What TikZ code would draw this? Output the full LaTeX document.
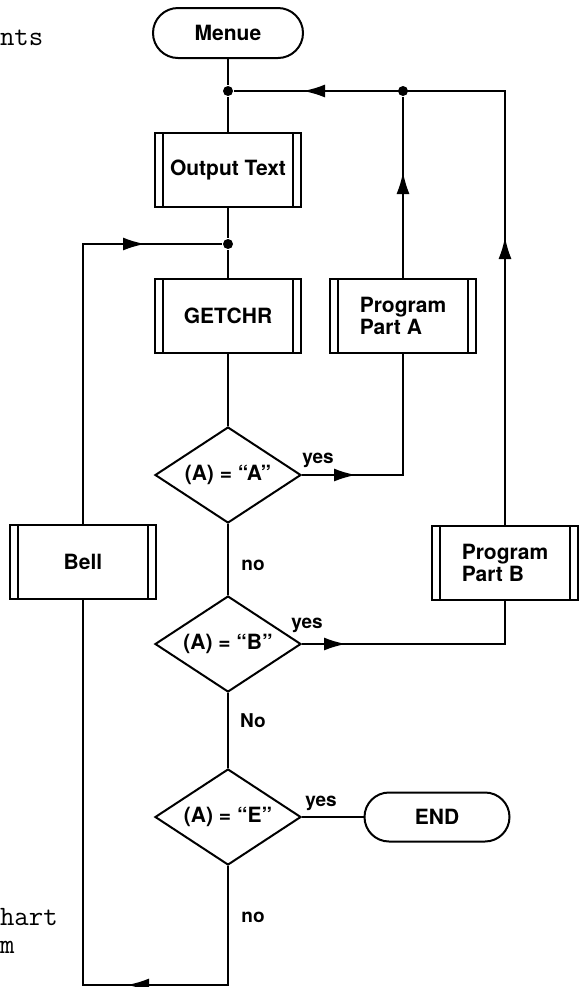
\documentclass[tikz,border=0pt]{standalone}
\usepackage{fontspec}
\setsansfont{TeX Gyre Heros}
\usetikzlibrary{arrows.meta, shapes.geometric, shapes.misc, decorations.markings}
\tikzset{
  flownode/.style = {align=left, inner sep=0pt, draw=black, fill=white,
    font=\sffamily\bfseries\fontsize{10.5}{11}\selectfont},
  term_n/.style = {flownode, rounded rectangle, align=center,
    minimum width=75pt, minimum height=25pt},
  proc_n/.style = {flownode, rectangle, minimum width=73pt, minimum height=37pt},
  dec_n/.style = {flownode, diamond, aspect=1.52, align=center,
    minimum width=73pt, minimum height=48pt},
  lbl/.style = {inner sep=0pt, font=\sffamily\bfseries\fontsize{9.5}{9.5}\selectfont},
  frag/.style = {anchor=base west, inner sep=0pt,
    font=\ttfamily\fontsize{14}{14}\selectfont},
  jdot/.style = {circle, fill=black, inner sep=0pt, minimum size=5pt},
  arr_one/.style = {postaction={decorate}, decoration={markings,
    mark=at position #1 with {\arrow{Latex[length=11pt,width=6.5pt]}}}},
  arr_two/.style 2 args = {postaction={decorate}, decoration={markings,
    mark=at position #1 with {\arrow{Latex[length=11pt,width=6.5pt]}},
    mark=at position #2 with {\arrow{Latex[length=11pt,width=6.5pt]}}}}
}

\begin{document}
\begin{tikzpicture}[x=0.5pt, y=-0.5pt, line width=1pt]
\useasboundingbox (0,0) rectangle (579,987);

% text of the page beside the chart
\node[frag] (txt1) at (-1,45) {nts};
\node[frag] (txt2) at (-1,925) {hart};
\node[frag] (txt3) at (-1,953) {m};

% main column
\node[term_n] (menue) at (228,33) {Menue};
\node[jdot] (j1) at (228,91) {};
\node[proc_n] (out) at (228,170) {Output Text};
\node[jdot] (j3) at (228,244) {};
\node[proc_n] (getchr) at (228,316) {GETCHR};
\node[dec_n] (qa) at (228,475) {(A) = ``A''};
\node[dec_n] (qb) at (228,644) {(A) = ``B''};
\node[dec_n] (qe) at (228,817) {(A) = ``E''};
\coordinate (bot) at (228,985);

% side boxes
\node[proc_n] (parta) at (403,316) {Program\\Part A};
\node[jdot] (j2) at (403,91) {};
\node[proc_n] (partb) at (505,563) {Program\\Part B};
\node[proc_n] (bell) at (83,562) {Bell};
\node[term_n, minimum width=72.5pt, minimum height=24.5pt] (end) at (437,817) {END};

\foreach \n in {out,getchr,parta,partb,bell} {
  \draw ([xshift=4.5pt]\n.north west) -- ([xshift=4.5pt]\n.south west);
  \draw ([xshift=-4.5pt]\n.north east) -- ([xshift=-4.5pt]\n.south east);
}

% connectors
\draw (menue) -- (j1) -- (out);
\draw (out) -- (j3) -- (getchr) -- (qa);
\draw (qa) -- (qb) -- (qe);
\draw (qe.east) -- (end.west);
\draw[arr_one=27pt] (qa.east) -- (parta |- qa) -- (parta.south);
\draw[arr_one=53pt] (parta.north) -- (j2);
\draw[arr_one=22pt] (qb.east) -- (partb |- qb) -- (partb.south);
\draw[arr_two={144pt}{318pt}] (partb.north) -- (partb |- j1) -- (j1);
\draw[arr_one=110pt] (qe.south) -- (bot) -- (bell |- bot) -- (bell.south);
\draw[arr_one=171pt] (bell.north) -- (bell |- j3) -- (j3);

% branch labels
\node[lbl] (yesa) at (318,460) {yes};
\node[lbl] (noa) at (253,565) {no};
\node[lbl] (yesb) at (307,625) {yes};
\node[lbl] (nob) at (253,721) {No};
\node[lbl] (yese) at (321,803) {yes};
\node[lbl] (noe) at (253,917) {no};
\end{tikzpicture}
\end{document}
